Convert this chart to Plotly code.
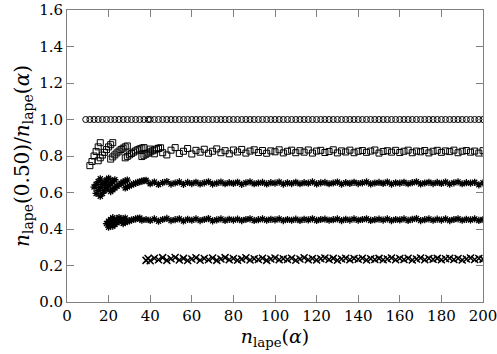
import plotly.graph_objects as go

# common abscissa for the converged part of every series
X_LATE = [40, 42, 44, 46, 48, 50, 52, 54, 56, 58,
          60, 62, 64, 66, 68, 70, 72, 74, 76, 78,
          80, 82, 84, 86, 88, 90, 92, 94, 96, 98,
          100, 102, 104, 106, 108, 110, 112, 114, 116, 118,
          120, 122, 124, 126, 128, 130, 132, 134, 136, 138,
          140, 142, 144, 146, 148, 150, 152, 154, 156, 158,
          160, 162, 164, 166, 168, 170, 172, 174, 176, 178,
          180, 182, 184, 186, 188, 190, 192, 194, 196, 198,
          200]

# alpha = 0.50 (ratio is exactly one)
n1_early = [9, 11, 13, 15, 17, 19, 21, 23, 25, 27, 29, 31, 33, 35, 37, 39]
r1_early = [1.0, 1.0, 1.0, 1.0, 1.0, 1.0, 1.0, 1.0, 1.0, 1.0, 1.0, 1.0, 1.0, 1.0, 1.0, 1.0]
r1_late = [1.0, 1.0, 1.0, 1.0, 1.0, 1.0, 1.0, 1.0, 1.0, 1.0,
           1.0, 1.0, 1.0, 1.0, 1.0, 1.0, 1.0, 1.0, 1.0, 1.0,
           1.0, 1.0, 1.0, 1.0, 1.0, 1.0, 1.0, 1.0, 1.0, 1.0,
           1.0, 1.0, 1.0, 1.0, 1.0, 1.0, 1.0, 1.0, 1.0, 1.0,
           1.0, 1.0, 1.0, 1.0, 1.0, 1.0, 1.0, 1.0, 1.0, 1.0,
           1.0, 1.0, 1.0, 1.0, 1.0, 1.0, 1.0, 1.0, 1.0, 1.0,
           1.0, 1.0, 1.0, 1.0, 1.0, 1.0, 1.0, 1.0, 1.0, 1.0,
           1.0, 1.0, 1.0, 1.0, 1.0, 1.0, 1.0, 1.0, 1.0, 1.0,
           1.0]

# squares (~0.82)
n2_early = [11, 12, 13, 14, 15, 16,
            15, 16, 17, 18, 19, 20, 21, 22,
            21, 22, 23, 24, 25, 26, 27, 28, 29,
            28, 29, 30, 31, 32, 33, 34, 35, 36, 37,
            36, 37, 38, 39, 40, 41, 42, 43, 44, 45]
r2_early = [0.747, 0.77, 0.80, 0.825, 0.85, 0.873,
            0.774, 0.79, 0.805, 0.82, 0.835, 0.85, 0.862, 0.873,
            0.783, 0.795, 0.806, 0.817, 0.827, 0.836, 0.843, 0.85, 0.855,
            0.79, 0.798, 0.806, 0.814, 0.821, 0.828, 0.834, 0.839, 0.843, 0.846,
            0.797, 0.804, 0.81, 0.816, 0.822, 0.828, 0.833, 0.838, 0.842, 0.845]
r2_late = [0.838, 0.812, 0.842, 0.818, 0.806, 0.832, 0.846, 0.814, 0.826, 0.841,
           0.811, 0.831, 0.821, 0.837, 0.815, 0.826, 0.839, 0.818, 0.829, 0.812,
           0.833, 0.822, 0.836, 0.816, 0.827, 0.834, 0.819, 0.83, 0.815, 0.828,
           0.823, 0.834, 0.817, 0.826, 0.832, 0.818, 0.829, 0.821, 0.833, 0.816,
           0.827, 0.831, 0.819, 0.825, 0.834, 0.817, 0.828, 0.822, 0.832, 0.818,
           0.826, 0.83, 0.82, 0.827, 0.833, 0.816, 0.825, 0.829, 0.821, 0.831,
           0.819, 0.826, 0.832, 0.818, 0.827, 0.823, 0.83, 0.817, 0.826, 0.831,
           0.82, 0.828, 0.824, 0.832, 0.818, 0.826, 0.83, 0.821, 0.827, 0.816,
           0.829]

# asterisks (~0.65)
n3_early = [13, 14, 15, 16,
            14, 15, 16, 17, 18, 19, 20,
            16, 17, 18, 19, 20, 21, 22, 23,
            21, 22, 23, 24, 25, 26, 27, 28, 29,
            28, 29, 30, 31, 32, 33, 34, 35, 36, 37, 38]
r3_early = [0.63, 0.645, 0.66, 0.675,
            0.595, 0.612, 0.628, 0.643, 0.656, 0.668, 0.678,
            0.58, 0.595, 0.61, 0.624, 0.637, 0.649, 0.66, 0.67,
            0.605, 0.615, 0.625, 0.634, 0.642, 0.65, 0.657, 0.663, 0.668,
            0.625, 0.631, 0.637, 0.642, 0.647, 0.651, 0.655, 0.659, 0.662, 0.665, 0.667]
r3_late = [0.648, 0.657, 0.644, 0.654, 0.66, 0.646, 0.652, 0.658, 0.645, 0.655,
           0.649, 0.656, 0.647, 0.653, 0.659, 0.646, 0.651, 0.657, 0.648, 0.654,
           0.65, 0.656, 0.645, 0.653, 0.658, 0.648, 0.652, 0.655, 0.647, 0.654,
           0.651, 0.657, 0.646, 0.653, 0.649, 0.656, 0.648, 0.654, 0.651, 0.658,
           0.647, 0.653, 0.655, 0.648, 0.652, 0.657, 0.646, 0.654, 0.65, 0.656,
           0.649, 0.653, 0.658, 0.647, 0.652, 0.655, 0.65, 0.657, 0.646, 0.653,
           0.651, 0.656, 0.648, 0.654, 0.659, 0.647, 0.652, 0.656, 0.649, 0.655,
           0.65, 0.657, 0.646, 0.653, 0.658, 0.648, 0.654, 0.651, 0.656, 0.642,
           0.653]

# crosses (~0.45)
n4_early = [19, 20, 21, 22,
            20, 21, 22, 23, 24, 25,
            22, 23, 24, 25, 26, 27, 28,
            27, 28, 29, 30, 31, 32, 33, 34, 35, 36, 38]
r4_early = [0.43, 0.442, 0.452, 0.462,
            0.41, 0.422, 0.434, 0.445, 0.455, 0.463,
            0.415, 0.425, 0.434, 0.442, 0.449, 0.455, 0.46,
            0.43, 0.436, 0.441, 0.445, 0.449, 0.452, 0.455, 0.458, 0.46, 0.448, 0.452]
r4_late = [0.447, 0.455, 0.443, 0.452, 0.458, 0.446, 0.451, 0.456, 0.444, 0.453,
           0.448, 0.455, 0.446, 0.452, 0.457, 0.445, 0.45, 0.455, 0.447, 0.453,
           0.449, 0.454, 0.446, 0.452, 0.456, 0.447, 0.451, 0.455, 0.448, 0.453,
           0.45, 0.455, 0.446, 0.452, 0.448, 0.454, 0.447, 0.453, 0.45, 0.456,
           0.447, 0.452, 0.454, 0.448, 0.451, 0.455, 0.446, 0.453, 0.449, 0.455,
           0.448, 0.452, 0.456, 0.447, 0.451, 0.454, 0.449, 0.455, 0.446, 0.452,
           0.45, 0.455, 0.447, 0.453, 0.457, 0.446, 0.451, 0.455, 0.448, 0.454,
           0.449, 0.455, 0.446, 0.452, 0.456, 0.448, 0.453, 0.45, 0.455, 0.447,
           0.452]

# x marks (~0.235)
n5_early = [38, 39]
r5_early = [0.228, 0.238]
r5_late = [0.226, 0.24, 0.231, 0.243, 0.228, 0.237, 0.244, 0.23, 0.239, 0.227,
           0.236, 0.242, 0.229, 0.238, 0.232, 0.241, 0.228, 0.236, 0.243, 0.231,
           0.238, 0.229, 0.235, 0.242, 0.23, 0.237, 0.233, 0.24, 0.228, 0.236,
           0.241, 0.231, 0.237, 0.233, 0.24, 0.229, 0.236, 0.242, 0.232, 0.238,
           0.23, 0.237, 0.241, 0.233, 0.239, 0.229, 0.236, 0.24, 0.232, 0.238,
           0.234, 0.24, 0.23, 0.237, 0.233, 0.239, 0.231, 0.236, 0.241, 0.232,
           0.238, 0.233, 0.24, 0.23, 0.236, 0.241, 0.232, 0.238, 0.234, 0.239,
           0.231, 0.237, 0.24, 0.233, 0.238, 0.23, 0.236, 0.241, 0.233, 0.238,
           0.235]

series = [
    (n1_early + X_LATE, r1_early + r1_late, 'circle-open', 6, 1.0),
    (n2_early + X_LATE, r2_early + r2_late, 'square-open', 6, 1.0),
    (n3_early + X_LATE, r3_early + r3_late, 'asterisk-open', 6, 1.3),
    (n4_early + X_LATE, r4_early + r4_late, 'asterisk-open', 6, 1.3),
    (n5_early + X_LATE, r5_early + r5_late, 'x-thin-open', 7, 1.5),
]

fig = go.Figure()
for n, r, sym, size, lw in series:
    fig.add_trace(go.Scatter(x=n, y=r, mode='markers', showlegend=False,
                             marker=dict(symbol=sym, size=size, color='black',
                                         line=dict(width=lw, color='black'))))

axis_style = dict(showline=True, linecolor='#808080', linewidth=1, mirror='ticks',
                  ticks='inside', ticklen=7, tickcolor='#808080',
                  showgrid=False, zeroline=False, automargin=False,
                  ticklabeloverflow='allow')

fig.update_layout(
    width=497, height=354,
    margin=dict(l=67, r=14, t=10, b=52),
    plot_bgcolor='white', paper_bgcolor='white',
    font=dict(family='DejaVu Serif', size=15, color='black'),
    xaxis=dict(range=[0, 200], tick0=0, dtick=20,
               title=dict(text='<i>n</i><sub>lape</sub>(<i>α</i>)', font=dict(size=19), standoff=2),
               **axis_style),
    yaxis=dict(range=[0, 1.6], tick0=0, dtick=0.2, tickformat='.1f',
               title=dict(text='<i>n</i><sub>lape</sub>(0.50)/<i>n</i><sub>lape</sub>(<i>α</i>)',
                          font=dict(size=20), standoff=4),
               **axis_style),
)

# the page body has a default margin; drop it so the figure sits at the window origin
fig.write_html("out.html", config={'displayModeBar': False},
               post_script="document.body.style.margin='0';")
